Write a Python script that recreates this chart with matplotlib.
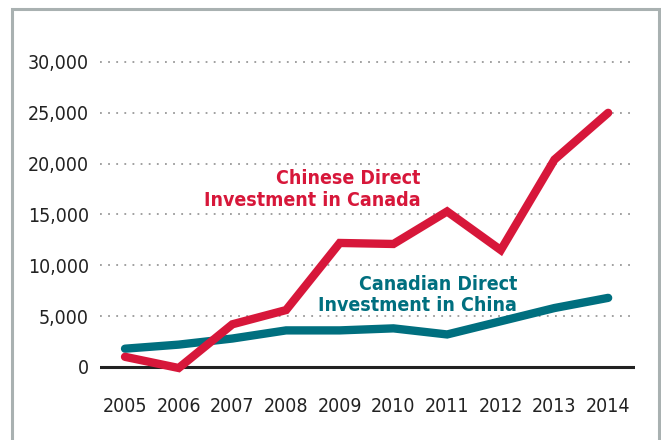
import matplotlib
matplotlib.use('Agg')
import matplotlib.pyplot as plt
from matplotlib.patches import Rectangle
import numpy as np

years = [2005, 2006, 2007, 2008, 2009, 2010, 2011, 2012, 2013, 2014]
chinese_in_canada = [1000, -100, 4200, 5600, 12200, 12100, 15300, 11500, 20400, 25000]
canadian_in_china = [1800, 2200, 2800, 3600, 3600, 3800, 3200, 4500, 5800, 6800]
y_ticks = [0, 5000, 10000, 15000, 20000, 25000, 30000]

red = '#d7173a'
teal = '#006f7f'

plt.rcParams['font.family'] = ['DejaVu Sans']
plt.rcParams['font.stretch'] = 'condensed'

fig = plt.figure(figsize=(6.61, 4.40), dpi=100)
ax = fig.add_axes([100/661, 0.1382, 535/661, 0.744])

# grey frame round the chart
fig.patches.append(Rectangle((12/661, -0.1), 647/661, 1.08, transform=fig.transFigure,
                             fill=False, edgecolor='#a9b1b1', linewidth=2.2))

for v in y_ticks[1:]:
    ax.axhline(v, color='#999999', linestyle=(0, (1, 3.5)), linewidth=1.3, zorder=1)
ax.axhline(0, color='#222222', linewidth=2.2, zorder=2)

ax.plot(years, canadian_in_china, color=teal, linewidth=6, solid_capstyle='round',
        solid_joinstyle='miter', zorder=3)
ax.plot(years, chinese_in_canada, color=red, linewidth=6, solid_capstyle='round',
        solid_joinstyle='miter', zorder=4)

ax.set_xlim(2004.534, 2014.5)
ax.set_ylim(-1200, 31000)
ax.set_yticks(y_ticks)
ax.set_yticklabels([f'{v:,}' for v in y_ticks])
ax.set_xticks(years)
ax.tick_params(axis='both', length=0, labelsize=14, colors='#222222')
ax.tick_params(axis='y', pad=8)
ax.tick_params(axis='x', pad=13)
for s in ax.spines.values():
    s.set_visible(False)

ax.text(2010.5, 17450, 'Chinese Direct\nInvestment in Canada', color=red, fontsize=14,
        fontweight='bold', ha='right', va='center', linespacing=1.15)
ax.text(2012.3, 7080, 'Canadian Direct\nInvestment in China', color=teal, fontsize=14,
        fontweight='bold', ha='right', va='center', linespacing=1.15)

fig.savefig('out.png', dpi=100)
